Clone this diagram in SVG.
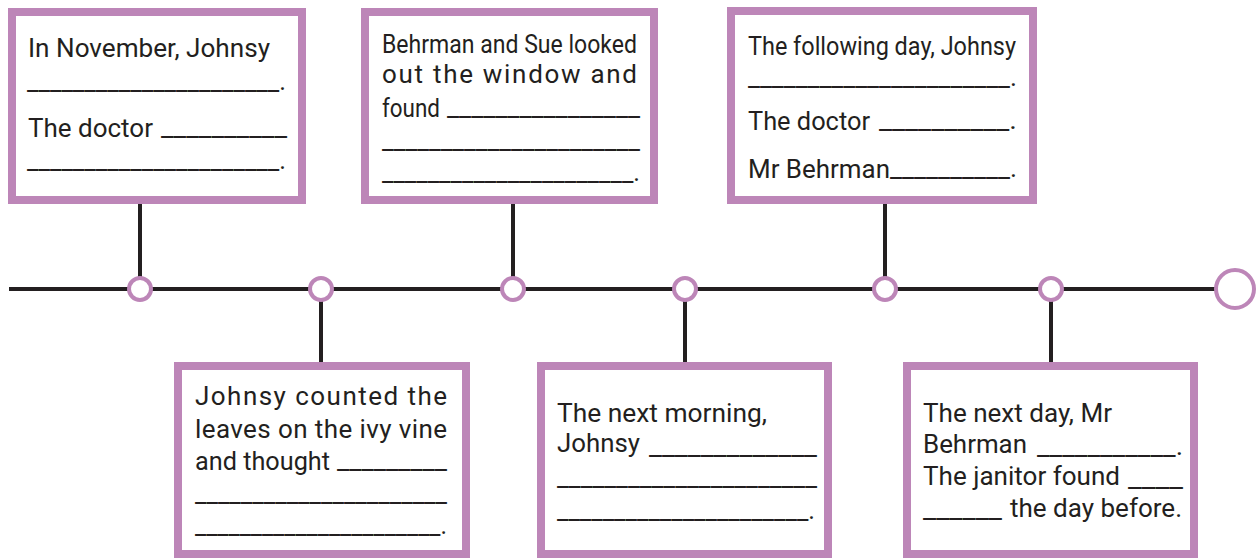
<svg xmlns="http://www.w3.org/2000/svg" width="1260" height="558" viewBox="0 0 1260 558">
<style>
.box{fill:#fff;stroke:#bd86b8;stroke-width:8}
.t{font-family:Roboto,"Liberation Sans",sans-serif;font-size:26px;fill:#231f20}
.ln{stroke:#231f20;stroke-width:4;fill:none}
.dot{fill:#fff;stroke:#bd86b8;stroke-width:4}
</style>
<rect width="1260" height="558" fill="#fff"/>
<g id="connectors">
<line class="ln" x1="9" y1="289" x2="1216" y2="289"/>
<line class="ln" x1="140" y1="204" x2="140" y2="278"/>
<line class="ln" x1="513" y1="204" x2="513" y2="278"/>
<line class="ln" x1="885" y1="204" x2="885" y2="278"/>
<line class="ln" x1="321" y1="300" x2="321" y2="362"/>
<line class="ln" x1="685" y1="300" x2="685" y2="362"/>
<line class="ln" x1="1051" y1="300" x2="1051" y2="362"/>
<circle class="dot" cx="140" cy="289" r="11"/>
<circle class="dot" cx="321" cy="289" r="11"/>
<circle class="dot" cx="513" cy="289" r="11"/>
<circle class="dot" cx="685" cy="289" r="11"/>
<circle class="dot" cx="885" cy="289" r="11"/>
<circle class="dot" cx="1051" cy="289" r="11"/>
<circle class="dot" cx="1235" cy="289" r="19"/>
</g>
<g id="node1">
<rect class="box" x="12" y="12" width="290" height="188"/>
<text class="t" x="28" y="57" textLength="242" lengthAdjust="spacingAndGlyphs">In November, Johnsy</text>
<text class="t" x="27" y="90" textLength="259" lengthAdjust="spacingAndGlyphs">______________________.</text>
<text class="t" x="28" y="137" textLength="125" lengthAdjust="spacingAndGlyphs">The doctor</text>
<text class="t" x="161" y="136" textLength="126" lengthAdjust="spacingAndGlyphs">__________</text>
<text class="t" x="27" y="169" textLength="259" lengthAdjust="spacingAndGlyphs">______________________.</text>
</g>
<g id="node2">
<rect class="box" x="365" y="12" width="289" height="188"/>
<text class="t" x="382" y="53" textLength="255" lengthAdjust="spacingAndGlyphs">Behrman and Sue looked</text>
<text class="t" x="382" y="83" textLength="255" lengthAdjust="spacing">out the window and</text>
<text class="t" x="382" y="117" textLength="58" lengthAdjust="spacingAndGlyphs">found</text>
<text class="t" x="447" y="116" textLength="193" lengthAdjust="spacingAndGlyphs">________________</text>
<text class="t" x="382" y="149" textLength="258" lengthAdjust="spacingAndGlyphs">______________________</text>
<text class="t" x="382" y="181" textLength="258" lengthAdjust="spacingAndGlyphs">______________________.</text>
</g>
<g id="node3">
<rect class="box" x="731" y="11" width="302" height="189"/>
<text class="t" x="748" y="55" textLength="268" lengthAdjust="spacingAndGlyphs">The following day, Johnsy</text>
<text class="t" x="748" y="86" textLength="269" lengthAdjust="spacingAndGlyphs">______________________.</text>
<text class="t" x="748" y="130" textLength="122" lengthAdjust="spacingAndGlyphs">The doctor</text>
<text class="t" x="879" y="129" textLength="138" lengthAdjust="spacingAndGlyphs">__________.</text>
<text class="t" x="748" y="178" textLength="142" lengthAdjust="spacingAndGlyphs">Mr Behrman</text>
<text class="t" x="890" y="177" textLength="127" lengthAdjust="spacingAndGlyphs">__________.</text>
</g>
<g id="node4">
<rect class="box" x="178" y="366" width="288" height="188"/>
<text class="t" x="195" y="405" textLength="252" lengthAdjust="spacing">Johnsy counted the</text>
<text class="t" x="195" y="438" textLength="252" lengthAdjust="spacing">leaves on the ivy vine</text>
<text class="t" x="195" y="470" textLength="135" lengthAdjust="spacingAndGlyphs">and thought</text>
<text class="t" x="337" y="469" textLength="110" lengthAdjust="spacingAndGlyphs">_________</text>
<text class="t" x="195" y="502" textLength="252" lengthAdjust="spacingAndGlyphs">______________________</text>
<text class="t" x="195" y="534" textLength="252" lengthAdjust="spacingAndGlyphs">______________________.</text>
</g>
<g id="node5">
<rect class="box" x="541" y="366" width="287" height="188"/>
<text class="t" x="557" y="422" textLength="210" lengthAdjust="spacingAndGlyphs">The next morning,</text>
<text class="t" x="557" y="452" textLength="83" lengthAdjust="spacingAndGlyphs">Johnsy</text>
<text class="t" x="649" y="455" textLength="168" lengthAdjust="spacingAndGlyphs">_____________</text>
<text class="t" x="557" y="486" textLength="260" lengthAdjust="spacingAndGlyphs">______________________</text>
<text class="t" x="557" y="519" textLength="258" lengthAdjust="spacingAndGlyphs">______________________.</text>
</g>
<g id="node6">
<rect class="box" x="907" y="366" width="287" height="188"/>
<text class="t" x="923" y="422" textLength="189" lengthAdjust="spacingAndGlyphs">The next day, Mr</text>
<text class="t" x="923" y="453" textLength="104" lengthAdjust="spacingAndGlyphs">Behrman</text>
<text class="t" x="1037" y="455" textLength="146" lengthAdjust="spacingAndGlyphs">___________.</text>
<text class="t" x="923" y="485" textLength="197" lengthAdjust="spacingAndGlyphs">The janitor found</text>
<text class="t" x="1128" y="487" textLength="55" lengthAdjust="spacingAndGlyphs">____</text>
<text class="t" x="923" y="518" textLength="79" lengthAdjust="spacingAndGlyphs">______</text>
<text class="t" x="1010" y="517" textLength="172" lengthAdjust="spacingAndGlyphs">the day before.</text>
</g>
</svg>
